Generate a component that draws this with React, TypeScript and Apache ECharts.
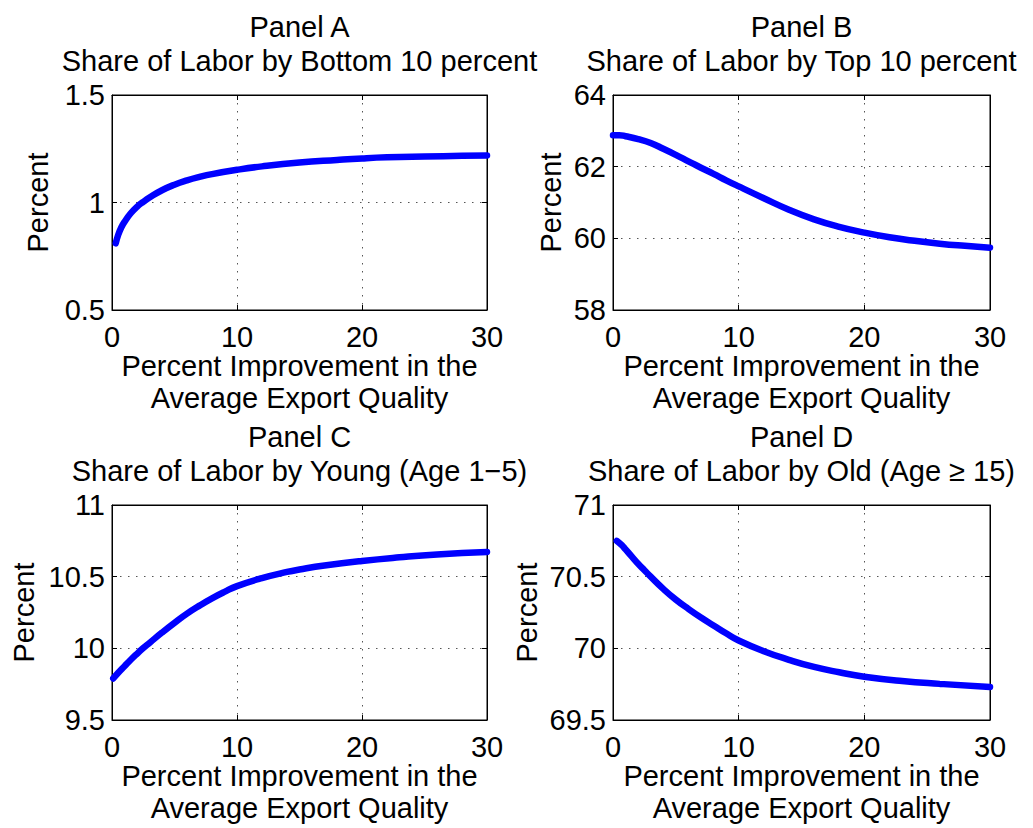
import React, { useEffect, useRef } from "react";
import * as echarts from "echarts";

const xTicks = [0, 10, 20, 30];

const panelTitles = ["Panel A", "Panel B", "Panel C", "Panel D"];
const panelSubtitles = [
  "Share of Labor by Bottom 10 percent",
  "Share of Labor by Top 10 percent",
  "Share of Labor by Young (Age 1\u22125)",
  "Share of Labor by Old (Age \u2265 15)",
];
const xAxisTitle = ["Percent Improvement in the", "Average Export Quality"];
const yAxisTitle = "Percent";

const yMin = [0.5, 58, 9.5, 69.5];
const yMax = [1.5, 64, 11, 71];
const yStep = [0.5, 2, 0.5, 0.5];

const xA = [0.3, 0.5, 0.75, 1, 1.5, 2, 2.5, 3, 4, 5, 6, 7, 8, 10, 12, 15, 18, 20, 22, 25, 28, 30];
const yA = [0.81, 0.85, 0.885, 0.91, 0.95, 0.98, 1.003, 1.023, 1.057, 1.083, 1.103, 1.119, 1.132, 1.152, 1.168, 1.186, 1.198, 1.205, 1.21, 1.214, 1.217, 1.219];

const xB = [0, 0.5, 1, 2, 3, 4, 5, 6, 7, 8, 9, 10, 12, 14, 16, 18, 20, 22, 24, 26, 28, 30];
const yB = [62.88, 62.88, 62.85, 62.77, 62.66, 62.5, 62.33, 62.15, 61.97, 61.8, 61.62, 61.45, 61.12, 60.8, 60.53, 60.32, 60.16, 60.03, 59.93, 59.85, 59.79, 59.74];

const xC = [0.1, 0.5, 1, 1.5, 2, 2.5, 3, 4, 5, 6, 7, 8, 9, 10, 12, 14, 15, 17, 20, 23, 26, 30];
const yC = [9.79, 9.83, 9.875, 9.92, 9.962, 10.002, 10.038, 10.11, 10.178, 10.242, 10.298, 10.349, 10.394, 10.434, 10.49, 10.533, 10.55, 10.578, 10.61, 10.635, 10.655, 10.672];

const xD = [0.3, 0.7, 1, 1.5, 2, 2.5, 3, 4, 5, 6, 7, 8, 9, 10, 12, 14, 16, 18, 20, 23, 26, 30];
const yD = [70.75, 70.72, 70.69, 70.64, 70.59, 70.545, 70.5, 70.415, 70.34, 70.275, 70.215, 70.16, 70.105, 70.055, 69.98, 69.92, 69.87, 69.833, 69.802, 69.772, 69.752, 69.73];

const seriesX = [xA, xB, xC, xD];
const seriesY = [yA, yB, yC, yD];

const FONT = "'Liberation Sans', Arial, Helvetica, sans-serif";
const FS = 29;

const grids = [
  { left: 112, top: 95, width: 375, height: 215 },
  { left: 613, top: 95, width: 377, height: 215 },
  { left: 112, top: 505, width: 375, height: 215 },
  { left: 613, top: 505, width: 377, height: 215 },
];
const yLabelX = [38, 551, 24, 527];

function fmt(v: number) {
  return String(Math.round(v * 100) / 100);
}

export default function App() {
  const ref = useRef<HTMLDivElement>(null);
  useEffect(() => {
    if (!ref.current) return;
    const chart = echarts.init(ref.current, undefined, { renderer: "svg" });

    const xAxes: any[] = [];
    const yAxes: any[] = [];
    const series: any[] = [];
    const graphic: any[] = [];

    grids.forEach((g, i) => {
      const baseX = {
        type: "value",
        gridIndex: i,
        min: xTicks[0],
        max: xTicks[xTicks.length - 1],
        interval: 10,
      };
      xAxes.push({
        ...baseX,
        position: "bottom",
        axisLine: { show: true, onZero: false, lineStyle: { color: "#000", width: 1 } },
        axisTick: { show: true, inside: true, length: 5, lineStyle: { color: "#000" } },
        axisLabel: { show: true, margin: 12, color: "#000", fontSize: FS, fontFamily: FONT },
        splitLine: { show: true, lineStyle: { color: "#555", type: [1.5, 6.5], width: 1 } },
      });
      xAxes.push({
        ...baseX,
        position: "top",
        axisLine: { show: true, onZero: false, lineStyle: { color: "#000", width: 1 } },
        axisTick: { show: true, inside: true, length: 5, lineStyle: { color: "#000" } },
        axisLabel: { show: false },
        splitLine: { show: false },
      });
      const baseY = {
        type: "value",
        gridIndex: i,
        min: yMin[i],
        max: yMax[i],
        interval: yStep[i],
      };
      yAxes.push({
        ...baseY,
        position: "left",
        axisLine: { show: true, onZero: false, lineStyle: { color: "#000", width: 1 } },
        axisTick: { show: true, inside: true, length: 5, lineStyle: { color: "#000" } },
        axisLabel: {
          show: true,
          margin: 7,
          color: "#000",
          fontSize: FS,
          fontFamily: FONT,
          formatter: (v: number) => fmt(v),
        },
        splitLine: { show: true, lineStyle: { color: "#555", type: [1.5, 6.5], width: 1 } },
      });
      yAxes.push({
        ...baseY,
        position: "right",
        axisLine: { show: true, onZero: false, lineStyle: { color: "#000", width: 1 } },
        axisTick: { show: true, inside: true, length: 5, lineStyle: { color: "#000" } },
        axisLabel: { show: false },
        splitLine: { show: false },
      });

      series.push({
        type: "line",
        xAxisIndex: i * 2,
        yAxisIndex: i * 2,
        data: seriesX[i].map((x, k) => [x, seriesY[i][k]]),
        showSymbol: false,
        symbol: "none",
        smooth: 0.5,
        lineStyle: { color: "#0000ff", width: 6.5, cap: "round", join: "round" },
        clip: true,
      });

      const cx = g.left + g.width / 2;
      const cy = g.top + g.height / 2;
      const textStyle = (text: string) => ({
        text,
        fill: "#000",
        fontSize: FS,
        fontFamily: FONT,
        textAlign: "center",
        textVerticalAlign: "middle",
      });
      graphic.push({ type: "text", x: cx, y: g.top - 68, style: textStyle(panelTitles[i]) });
      graphic.push({ type: "text", x: cx, y: g.top - 34, style: textStyle(panelSubtitles[i]) });
      graphic.push({ type: "text", x: cx, y: g.top + g.height + 56, style: textStyle(xAxisTitle[0]) });
      graphic.push({ type: "text", x: cx, y: g.top + g.height + 88, style: textStyle(xAxisTitle[1]) });
      graphic.push({
        type: "text",
        x: yLabelX[i],
        y: cy,
        rotation: Math.PI / 2,
        style: textStyle(yAxisTitle),
      });
    });

    chart.setOption({
      animation: false,
      backgroundColor: "#fff",
      grid: grids.map((g) => ({
        ...g,
        show: true,
        borderColor: "#000",
        borderWidth: 1,
        backgroundColor: "#fff",
        containLabel: false,
      })),
      xAxis: xAxes,
      yAxis: yAxes,
      series,
      graphic,
    });

    return () => chart.dispose();
  }, []);

  return (
    <div
      ref={ref}
      style={{ position: "fixed", left: 0, top: 0, width: 1033, height: 828, background: "#fff" }}
    />
  );
}
